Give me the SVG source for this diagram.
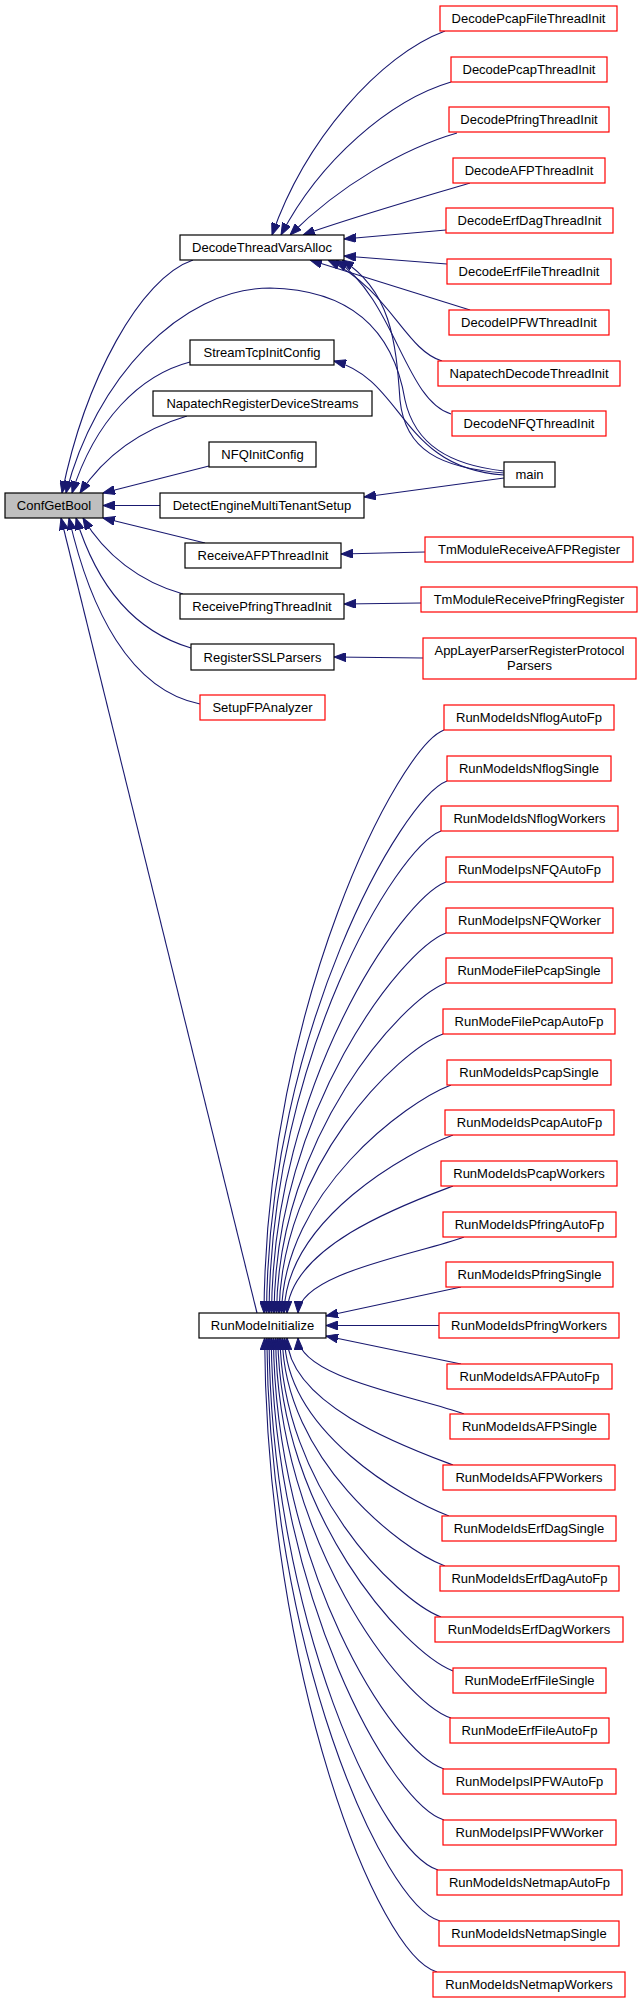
<svg xmlns="http://www.w3.org/2000/svg" width="640" height="2003" viewBox="0 0 640 2003">
<style>
.n rect{fill:#ffffff;stroke:#ff0000;stroke-width:1.2}
.n.b rect{stroke:#000000}
.n.g rect{fill:#bfbfbf;stroke:#000000}
.n text{font-family:"Liberation Sans",Arial,sans-serif;font-size:13px;fill:#000000;text-anchor:middle}
#edges path{fill:none;stroke:#191970;stroke-width:1.1;marker-end:url(#ah)}
</style>
<defs>
<marker id="ah" markerWidth="12" markerHeight="9" refX="12" refY="4.5" orient="auto" markerUnits="userSpaceOnUse"><path d="M0,0 L12,4.5 L0,9 z" fill="#191970" stroke="#191970" stroke-width="1"/></marker>
</defs>
<rect width="640" height="2003" fill="#ffffff"/>
<g id="edges">
<!-- to ConfGetBool -->
<path d="M193,260 C140,278 85,380 62,493"/>
<path d="M504,471 C450,465 415,445 405,400 C395,340 360,290 270,288 C180,288 95,380 66,493"/>
<path d="M190,362 C140,375 95,420 72,493"/>
<path d="M187,416 C140,430 105,455 80,493"/>
<path d="M209,466 L103,493"/>
<path d="M160,505.5 L103,505.5"/>
<path d="M205,543 L103,518"/>
<path d="M183,594 C140,582 105,555 83,518"/>
<path d="M191,648 C130,630 95,580 76,518"/>
<path d="M200,704 C130,690 90,610 69,518"/>
<path d="M257,1313 L61,518"/>
<!-- to DecodeThreadVarsAlloc -->
<path d="M445,31 C380,55 305,140 272,235"/>
<path d="M451,82 C390,100 320,160 281,235"/>
<path d="M457,133 C405,148 340,185 290,235"/>
<path d="M470,183 C420,198 350,218 303,235"/>
<path d="M446,230 L344,239"/>
<path d="M447,264 L344,256"/>
<path d="M470,310 L310,260"/>
<path d="M442,361 C405,350 390,290 328,260"/>
<path d="M451,414 C405,400 395,300 336,260"/>
<path d="M504,473 C440,468 405,450 400,400 C396,340 390,290 342,260"/>
<!-- from main -->
<path d="M504,475 C400,468 405,380 334,361"/>
<path d="M504,478 L364,497"/>
<!-- middle registrations -->
<path d="M425,552 L341,554"/>
<path d="M421,603 L344,604"/>
<path d="M423,658 L334,657"/>
<!-- to RunModeInitialize, upper -->
<path d="M444,730 C399,747 266,1004 264,1313"/>
<path d="M447,781 C402,798 268.5,1031 266.5,1313"/>
<path d="M441,831 C396,848 271,1057.5 269,1313"/>
<path d="M446,882 C401,899 273.5,1084.6 271.5,1313"/>
<path d="M446,933 C401,950 276,1111.6 274,1313"/>
<path d="M446,983 C401,1000 278.5,1138 276.5,1313"/>
<path d="M443,1034 C398,1051 281,1165 279,1313"/>
<path d="M451,1085 C406,1102 283.5,1192 281.5,1313"/>
<path d="M453,1135 C408,1152 286,1218.7 284,1313"/>
<path d="M453,1186 C408,1203 289,1245.7 287,1313"/>
<path d="M464,1237 C419,1254 300,1272.7 298,1313"/>
<path d="M461,1287 L326,1316"/>
<path d="M439,1325.5 L326,1325.5"/>
<!-- to RunModeInitialize, lower -->
<path d="M461,1364 L326,1336"/>
<path d="M464,1414 C419,1397 300,1378.3 298,1338"/>
<path d="M453,1465 C408,1448 289,1405.3 287,1338"/>
<path d="M449,1516 C404,1499 286.5,1432.3 284.5,1338"/>
<path d="M445,1566 C400,1549 284.3,1458.8 282.3,1338"/>
<path d="M441,1617 C396,1600 282,1485.9 280,1338"/>
<path d="M453,1671 C403,1651 279.8,1512.9 277.8,1338"/>
<path d="M451,1718 C401,1701 277.6,1539.4 275.6,1338"/>
<path d="M444,1769 C392,1752 275.4,1566.4 273.4,1338"/>
<path d="M444,1820 C390,1803 273.2,1593.5 271.2,1338"/>
<path d="M438,1870 C382,1853 271,1620 269,1338"/>
<path d="M440,1921 C382,1904 268.8,1647 266.8,1338"/>
<path d="M437,1972 C377,1955 266.6,1674 264.6,1338"/>
</g>
<g id="ConfGetBool" class="n g"><rect x="5" y="493" width="98" height="25"/><text x="54" y="510">ConfGetBool</text></g>
<g id="DecodeThreadVarsAlloc" class="n b"><rect x="180" y="235" width="164" height="25"/><text x="262" y="252">DecodeThreadVarsAlloc</text></g>
<g id="StreamTcpInitConfig" class="n b"><rect x="190" y="340" width="144" height="25"/><text x="262" y="357">StreamTcpInitConfig</text></g>
<g id="NapatechRegisterDeviceStreams" class="n b"><rect x="153" y="391" width="219" height="25"/><text x="262.5" y="408">NapatechRegisterDeviceStreams</text></g>
<g id="NFQInitConfig" class="n b"><rect x="209" y="442" width="107" height="25"/><text x="262.5" y="459">NFQInitConfig</text></g>
<g id="DetectEngineMultiTenantSetup" class="n b"><rect x="160" y="493" width="204" height="25"/><text x="262" y="510">DetectEngineMultiTenantSetup</text></g>
<g id="ReceiveAFPThreadInit" class="n b"><rect x="185" y="543" width="156" height="25"/><text x="263" y="560">ReceiveAFPThreadInit</text></g>
<g id="ReceivePfringThreadInit" class="n b"><rect x="180" y="594" width="164" height="25"/><text x="262" y="611">ReceivePfringThreadInit</text></g>
<g id="RegisterSSLParsers" class="n b"><rect x="191" y="644" width="143" height="26"/><text x="262.5" y="661.5">RegisterSSLParsers</text></g>
<g id="SetupFPAnalyzer" class="n"><rect x="200" y="695" width="125" height="25"/><text x="262.5" y="712">SetupFPAnalyzer</text></g>
<g id="RunModeInitialize" class="n b"><rect x="199" y="1313" width="127" height="25"/><text x="262.5" y="1330">RunModeInitialize</text></g>
<g id="DecodePcapFileThreadInit" class="n"><rect x="440" y="6" width="177" height="25"/><text x="528.5" y="23">DecodePcapFileThreadInit</text></g>
<g id="DecodePcapThreadInit" class="n"><rect x="451" y="57" width="156" height="25"/><text x="529" y="74">DecodePcapThreadInit</text></g>
<g id="DecodePfringThreadInit" class="n"><rect x="449" y="107" width="160" height="25"/><text x="529" y="124">DecodePfringThreadInit</text></g>
<g id="DecodeAFPThreadInit" class="n"><rect x="453" y="158" width="152" height="25"/><text x="529" y="175">DecodeAFPThreadInit</text></g>
<g id="DecodeErfDagThreadInit" class="n"><rect x="446" y="208" width="167" height="25"/><text x="529.5" y="225">DecodeErfDagThreadInit</text></g>
<g id="DecodeErfFileThreadInit" class="n"><rect x="447" y="259" width="164" height="25"/><text x="529" y="276">DecodeErfFileThreadInit</text></g>
<g id="DecodeIPFWThreadInit" class="n"><rect x="449" y="310" width="160" height="25"/><text x="529" y="327">DecodeIPFWThreadInit</text></g>
<g id="NapatechDecodeThreadInit" class="n"><rect x="438" y="361" width="182" height="25"/><text x="529" y="378">NapatechDecodeThreadInit</text></g>
<g id="DecodeNFQThreadInit" class="n"><rect x="452" y="411" width="154" height="25"/><text x="529" y="428">DecodeNFQThreadInit</text></g>
<g id="main" class="n b"><rect x="504" y="462" width="51" height="25"/><text x="529.5" y="479">main</text></g>
<g id="TmModuleReceiveAFPRegister" class="n"><rect x="425" y="537" width="208" height="25"/><text x="529" y="554">TmModuleReceiveAFPRegister</text></g>
<g id="TmModuleReceivePfringRegister" class="n"><rect x="421" y="587" width="216" height="25"/><text x="529" y="604">TmModuleReceivePfringRegister</text></g>
<g id="AppLayerParserRegisterProtocolParsers" class="n"><rect x="423" y="638" width="213" height="41"/><text x="529.5" y="655">AppLayerParserRegisterProtocol</text><text x="529.5" y="670">Parsers</text></g>
<g id="RunModeIdsNflogAutoFp" class="n"><rect x="444" y="705" width="170" height="25"/><text x="529" y="722">RunModeIdsNflogAutoFp</text></g>
<g id="RunModeIdsNflogSingle" class="n"><rect x="447" y="756" width="164" height="25"/><text x="529" y="773">RunModeIdsNflogSingle</text></g>
<g id="RunModeIdsNflogWorkers" class="n"><rect x="441" y="806" width="177" height="25"/><text x="529.5" y="823">RunModeIdsNflogWorkers</text></g>
<g id="RunModeIpsNFQAutoFp" class="n"><rect x="446" y="857" width="167" height="25"/><text x="529.5" y="874">RunModeIpsNFQAutoFp</text></g>
<g id="RunModeIpsNFQWorker" class="n"><rect x="446" y="908" width="167" height="25"/><text x="529.5" y="925">RunModeIpsNFQWorker</text></g>
<g id="RunModeFilePcapSingle" class="n"><rect x="446" y="958" width="166" height="25"/><text x="529" y="975">RunModeFilePcapSingle</text></g>
<g id="RunModeFilePcapAutoFp" class="n"><rect x="443" y="1009" width="172" height="25"/><text x="529" y="1026">RunModeFilePcapAutoFp</text></g>
<g id="RunModeIdsPcapSingle" class="n"><rect x="447" y="1060" width="164" height="25"/><text x="529" y="1077">RunModeIdsPcapSingle</text></g>
<g id="RunModeIdsPcapAutoFp" class="n"><rect x="445" y="1110" width="169" height="25"/><text x="529.5" y="1127">RunModeIdsPcapAutoFp</text></g>
<g id="RunModeIdsPcapWorkers" class="n"><rect x="441" y="1161" width="176" height="25"/><text x="529" y="1178">RunModeIdsPcapWorkers</text></g>
<g id="RunModeIdsPfringAutoFp" class="n"><rect x="443" y="1212" width="173" height="25"/><text x="529.5" y="1229">RunModeIdsPfringAutoFp</text></g>
<g id="RunModeIdsPfringSingle" class="n"><rect x="446" y="1262" width="167" height="25"/><text x="529.5" y="1279">RunModeIdsPfringSingle</text></g>
<g id="RunModeIdsPfringWorkers" class="n"><rect x="439" y="1313" width="180" height="25"/><text x="529" y="1330">RunModeIdsPfringWorkers</text></g>
<g id="RunModeIdsAFPAutoFp" class="n"><rect x="447" y="1364" width="165" height="25"/><text x="529.5" y="1381">RunModeIdsAFPAutoFp</text></g>
<g id="RunModeIdsAFPSingle" class="n"><rect x="450" y="1414" width="159" height="25"/><text x="529.5" y="1431">RunModeIdsAFPSingle</text></g>
<g id="RunModeIdsAFPWorkers" class="n"><rect x="443" y="1465" width="172" height="25"/><text x="529" y="1482">RunModeIdsAFPWorkers</text></g>
<g id="RunModeIdsErfDagSingle" class="n"><rect x="442" y="1516" width="174" height="25"/><text x="529" y="1533">RunModeIdsErfDagSingle</text></g>
<g id="RunModeIdsErfDagAutoFp" class="n"><rect x="440" y="1566" width="179" height="25"/><text x="529.5" y="1583">RunModeIdsErfDagAutoFp</text></g>
<g id="RunModeIdsErfDagWorkers" class="n"><rect x="435" y="1617" width="188" height="25"/><text x="529" y="1634">RunModeIdsErfDagWorkers</text></g>
<g id="RunModeErfFileSingle" class="n"><rect x="453" y="1668" width="153" height="25"/><text x="529.5" y="1685">RunModeErfFileSingle</text></g>
<g id="RunModeErfFileAutoFp" class="n"><rect x="450" y="1718" width="159" height="25"/><text x="529.5" y="1735">RunModeErfFileAutoFp</text></g>
<g id="RunModeIpsIPFWAutoFp" class="n"><rect x="443" y="1769" width="173" height="25"/><text x="529.5" y="1786">RunModeIpsIPFWAutoFp</text></g>
<g id="RunModeIpsIPFWWorker" class="n"><rect x="443" y="1820" width="173" height="25"/><text x="529.5" y="1837">RunModeIpsIPFWWorker</text></g>
<g id="RunModeIdsNetmapAutoFp" class="n"><rect x="437" y="1870" width="185" height="25"/><text x="529.5" y="1887">RunModeIdsNetmapAutoFp</text></g>
<g id="RunModeIdsNetmapSingle" class="n"><rect x="439" y="1921" width="180" height="25"/><text x="529" y="1938">RunModeIdsNetmapSingle</text></g>
<g id="RunModeIdsNetmapWorkers" class="n"><rect x="433" y="1972" width="192" height="25"/><text x="529" y="1989">RunModeIdsNetmapWorkers</text></g>
</svg>
